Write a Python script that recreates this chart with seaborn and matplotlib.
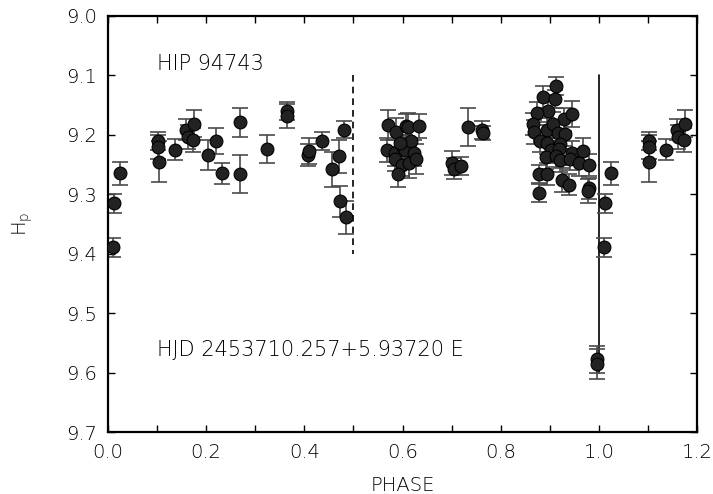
"""
HIP 94743 - фазова крива на блясъка (Hipparcos Hp)
"""

import numpy as np
import pandas as pd
import matplotlib
matplotlib.use('Agg')
import matplotlib.pyplot as plt
from matplotlib.ticker import MultipleLocator
import seaborn as sns

# фаза, звездна величина Hp и грешка (отчетени от графиката)
phase = [0.0096, 0.012, 0.0245, 0.1026, 0.1026, 0.1030, 0.1366, 0.159, 0.162,
         0.176, 0.174, 0.2045, 0.220, 0.233, 0.269, 0.268, 0.324, 0.364, 0.365,
         0.408, 0.409, 0.437, 0.456, 0.471, 0.481, 0.473, 0.485,
         0.571, 0.586, 0.607, 0.612, 0.633, 0.568, 0.585, 0.584, 0.599, 0.591,
         0.602, 0.605, 0.618, 0.614, 0.624, 0.628, 0.595,
         0.700, 0.704, 0.720, 0.733, 0.762, 0.765,
         0.912, 0.887, 0.910, 0.897, 0.874, 0.930, 0.945, 0.865, 0.867, 0.894,
         0.906, 0.916, 0.932, 0.881, 0.895, 0.921, 0.903, 0.918, 0.945, 0.967,
         0.893, 0.912, 0.921, 0.942, 0.960, 0.980, 0.879, 0.895, 0.925, 0.940,
         0.980, 0.978, 0.879, 0.996, 0.997]
hp = [9.389, 9.315, 9.265, 9.210, 9.220, 9.245, 9.225, 9.191, 9.204,
      9.181, 9.209, 9.234, 9.210, 9.265, 9.179, 9.266, 9.224, 9.160, 9.168,
      9.234, 9.227, 9.211, 9.258, 9.236, 9.191, 9.312, 9.339,
      9.183, 9.196, 9.185, 9.186, 9.185, 9.225, 9.231, 9.241, 9.251, 9.266,
      9.220, 9.225, 9.211, 9.248, 9.231, 9.241, 9.214,
      9.248, 9.257, 9.252, 9.186, 9.192, 9.197,
      9.118, 9.136, 9.139, 9.160, 9.164, 9.174, 9.165, 9.182, 9.195, 9.191,
      9.182, 9.197, 9.199, 9.211, 9.213, 9.215, 9.225, 9.224, 9.231, 9.228,
      9.238, 9.236, 9.243, 9.241, 9.247, 9.251, 9.266, 9.266, 9.276, 9.284,
      9.290, 9.295, 9.298, 9.578, 9.585]
err = [0.016, 0.016, 0.019, 0.015, 0.020, 0.035, 0.018, 0.018, 0.020,
       0.022, 0.020, 0.025, 0.022, 0.018, 0.025, 0.032, 0.024, 0.015, 0.020,
       0.018, 0.022, 0.015, 0.029, 0.028, 0.015, 0.026, 0.027,
       0.025, 0.025, 0.020, 0.022, 0.020, 0.020, 0.022, 0.020, 0.018, 0.022,
       0.020, 0.025, 0.020, 0.025, 0.022, 0.025, 0.020,
       0.020, 0.018, 0.015, 0.032, 0.015, 0.012,
       0.015, 0.018, 0.015, 0.018, 0.020, 0.020, 0.022, 0.018, 0.020, 0.020,
       0.020, 0.018, 0.020, 0.018, 0.020, 0.022, 0.020, 0.018, 0.020, 0.022,
       0.020, 0.018, 0.020, 0.018, 0.022, 0.018, 0.015, 0.018, 0.020, 0.018,
       0.018, 0.020, 0.015, 0.022, 0.025]

star = 'HIP 94743'
ephem = 'HJD 2453710.257+5.93720 E'

df = pd.DataFrame({'phase': phase, 'hp': hp, 'err': err})
# повтаряме началото на фазата след 1.0
df2 = df.copy()
df2['phase'] = df2['phase'] + 1
df_all = pd.concat([df, df2[df2['phase'] <= 1.2]], ignore_index=True)

sns.set_theme(style='ticks')
plt.rcParams['font.family'] = ['DejaVu Sans']
plt.rcParams['font.weight'] = 'light'
plt.rcParams['axes.labelweight'] = 'light'
plt.rcParams['mathtext.fontset'] = 'custom'
plt.rcParams['mathtext.rm'] = 'DejaVu Sans:light'
plt.rcParams['text.color'] = 'black'
plt.rcParams['axes.labelcolor'] = 'black'
plt.rcParams['xtick.color'] = 'black'
plt.rcParams['ytick.color'] = 'black'

fig, ax = plt.subplots(figsize=(7.13, 4.94), dpi=100)
fig.subplots_adjust(left=108/713, right=697/713, top=1-16/494, bottom=1-432/494)

ax.errorbar(df_all['phase'], df_all['hp'], yerr=df_all['err'], fmt='none',
            ecolor='#4a4a4a', elinewidth=1.2, capsize=5.5, capthick=1.2, zorder=2)
sns.scatterplot(data=df_all, x='phase', y='hp', ax=ax, color='#222222',
                edgecolor='black', linewidth=0.8, s=85, zorder=3, legend=False)

# линии при фаза 0.5 и 1.0
ax.plot([0.5, 0.5], [9.1, 9.4], color='black', lw=1.2, ls=(0, (4, 3)), zorder=1)
ax.plot([1.0, 1.0], [9.1, 9.6], color='black', lw=1.2, zorder=1)

ax.text(0.1, 9.0909, star, fontsize=15, va='baseline', ha='left')
ax.text(0.1, 9.5724, ephem, fontsize=15, va='baseline', ha='left')

ax.set_xlim(0.0, 1.2)
ax.set_ylim(9.7, 9.0)
ax.xaxis.set_major_locator(MultipleLocator(0.2))
ax.xaxis.set_minor_locator(MultipleLocator(0.1))
ax.yaxis.set_major_locator(MultipleLocator(0.1))
ax.xaxis.set_major_formatter(plt.FormatStrFormatter('%.1f'))
ax.yaxis.set_major_formatter(plt.FormatStrFormatter('%.1f'))
ax.tick_params(which='both', direction='in', top=True, right=True,
               length=5, width=1, labelsize=14, pad=8, color='black')

for sp in ax.spines.values():
    sp.set_linewidth(1.6)
    sp.set_color('black')

ax.set_xlabel('PHASE', fontsize=14, labelpad=10)
ax.set_ylabel(r'H$_\mathregular{p}$', fontsize=14, labelpad=22)

plt.savefig('out.png', dpi=100)
